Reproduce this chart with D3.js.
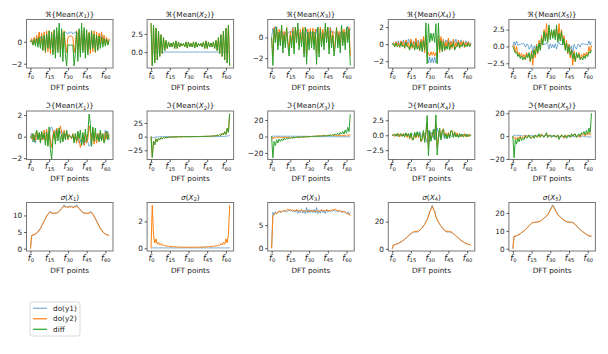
<!DOCTYPE html>
<html><head><meta charset="utf-8">
<script src="https://cdn.jsdelivr.net/npm/d3@7"></script>
<style>body{margin:0;background:#fff}svg{display:block}</style>
</head><body>
<svg id="c" width="608" height="354"></svg>
<script>
// ---------- DATA (64 DFT points each) ----------
const dftIndex = d3.range(64);
const xTickValues = [0, 15, 30, 45, 60];
const seriesNames = ["do(y1)", "do(y2)", "diff"];

// Row 1: real part of mean
const re1_y1 = [0.0,0.2,-0.1,0.3,0.1,0.4,0.2,0.8,0.3,0.5,-0.2,0.4,-0.3,0.5,-0.4,0.3,-0.7,0.2,-0.5,0.6,-0.3,0.7,0.1,0.6,-0.5,0.5,0.8,0.7,0.9,0.8,0.7,0.9,0.8,
 0.9,0.7,0.8,0.9,0.7,0.8,0.5,-0.5,0.6,0.1,0.7,-0.3,0.6,-0.5,0.2,-0.7,0.3,-0.4,0.5,-0.3,0.4,-0.2,0.5,0.3,0.8,0.2,0.4,0.1,0.3,-0.1,0.2];
const re1_y2 = [0.0,0.3,-0.3,0.4,-0.2,0.6,-0.2,0.9,-0.3,0.8,-0.7,0.9,-1.0,1.0,-0.9,1.0,-1.1,0.9,-1.0,1.0,-1.0,1.0,-0.8,1.0,-1.0,1.0,-0.7,1.0,-0.2,-1.0,0.4,0.5,0.5,
 0.5,0.4,-1.0,-0.2,1.0,-0.7,1.0,-1.0,1.0,-0.8,1.0,-1.0,1.0,-1.0,0.9,-1.1,1.0,-0.9,1.0,-1.0,0.9,-0.7,0.8,-0.3,0.9,-0.2,0.6,-0.2,0.4,-0.3,0.3];
const re1_diff = [0.0,0.1,-0.3,0.2,-0.4,0.3,-0.5,0.4,-0.6,0.5,-0.8,0.6,-0.9,0.7,-0.6,1.0,-0.7,0.8,-1.2,1.1,-1.5,1.3,-1.0,1.7,-1.4,1.2,-1.8,0.9,-1.1,-2.2,-0.3,-0.3,-0.3,
 -0.3,-0.3,-2.2,-1.1,0.9,-1.8,1.2,-1.4,1.7,-1.0,1.3,-1.5,1.1,-1.2,0.8,-0.7,1.0,-0.6,0.7,-0.9,0.6,-0.8,0.5,-0.6,0.4,-0.5,0.3,-0.4,0.2,-0.3,0.1];

const re2_y1 = [0,0,0,0,0,0,0,0,0,0,0,0,0,0,0,0,0,0,0,0,0,0,0,0,0,0,0,0,0,0,0,0,0,
 0,0,0,0,0,0,0,0,0,0,0,0,0,0,0,0,0,0,0,0,0,0,0,0,0,0,0,0,0,0,0];
const re2_diff = [4.0,-1.9,3.7,-1.5,3.3,-1.1,2.9,-0.6,2.4,-0.2,2.0,0.2,1.6,0.5,1.4,0.7,1.25,0.7,1.4,0.5,1.55,0.5,1.4,0.7,1.2,0.85,1.2,0.7,1.4,0.55,1.4,0.7,1.2,
 0.7,1.4,0.55,1.4,0.7,1.2,0.85,1.2,0.7,1.4,0.5,1.55,0.5,1.4,0.7,1.25,0.7,1.4,0.5,1.6,0.2,2.0,-0.2,2.4,-0.6,2.9,-1.1,3.3,-1.5,3.7,-1.9];
const re2_y2 = re2_diff; // identical in the picture (do(y1) is zero)

const re3_y1 = [0.0,0.9,0.4,1.1,0.2,0.5,0.3,0.6,0.0,0.5,0.3,0.5,0.2,0.4,0.5,0.6,0.5,1.0,0.5,0.3,0.4,0.2,0.4,0.5,0.5,0.3,0.4,0.0,0.8,0.3,0.5,0.3,0.5,
 0.3,0.5,0.3,0.8,0.0,0.4,0.3,0.5,0.5,0.4,0.2,0.4,0.3,0.5,1.0,0.5,0.6,0.5,0.4,0.2,0.5,0.3,0.5,0.0,0.6,0.3,0.5,0.2,1.1,0.4,0.9];
const re3_y2 = [0.0,-1.8,1.0,-0.2,1.0,-0.8,0.8,-0.4,1.0,-1.0,0.6,-0.6,1.0,-0.3,-1.3,0.6,-0.5,0.9,-1.1,1.0,-0.1,1.0,-0.8,0.8,-0.4,1.0,-1.5,1.0,-1.8,0.8,-0.7,0.9,-0.5,
 0.9,-0.7,0.8,-1.8,1.0,-1.5,1.0,-0.4,0.8,-0.8,1.0,-0.1,1.0,-1.1,0.9,-0.5,0.6,-1.3,-0.3,1.0,-0.6,0.6,-1.0,1.0,-0.4,0.8,-0.8,1.0,-0.2,1.0,-1.8];
const re3_diff = [0.0,-2.7,0.8,-0.5,1.0,-1.2,0.5,-0.8,1.2,-1.5,0.3,-1.0,0.9,-0.7,-1.8,0.2,-1.0,0.6,-1.6,1.0,-0.5,1.4,-1.2,0.4,-0.9,0.8,-1.9,1.0,-2.6,0.5,-1.2,0.6,-1.0,
 0.6,-1.2,0.5,-2.6,1.0,-1.9,0.8,-0.9,0.4,-1.2,1.4,-0.5,1.0,-1.6,0.6,-1.0,0.2,-1.8,-0.7,0.9,-1.0,0.3,-1.5,1.2,-0.8,0.5,-1.2,1.0,-0.5,0.8,-2.7];

const re4_y1 = [0.0,0.2,-0.1,0.3,0.0,0.4,-0.2,0.3,0.1,0.5,-0.1,0.4,0.0,0.6,0.2,0.5,-0.3,0.4,0.0,0.6,0.2,0.5,-0.2,0.4,0.3,0.6,-0.4,0.5,-1.0,-2.2,-1.5,-2.2,-1.6,
 -2.2,-1.5,-2.2,-1.0,0.5,-0.4,0.6,0.3,0.4,-0.2,0.5,0.2,0.6,0.0,0.4,-0.3,0.5,0.2,0.6,0.0,0.4,-0.1,0.5,0.1,0.3,-0.2,0.4,0.0,0.3,-0.1,0.2];
const re4_y2 = [0.0,0.1,-0.3,0.3,-0.2,0.2,-0.4,0.4,-0.2,0.3,-0.5,0.5,-0.3,0.2,-0.6,0.6,-0.5,0.3,-0.6,0.7,-0.4,0.3,-0.8,0.6,-0.6,0.9,-1.0,1.0,-1.5,-1.0,-1.4,-0.9,-1.3,
 -0.9,-1.4,-1.0,-1.5,1.0,-1.0,0.9,-0.6,0.6,-0.8,0.3,-0.4,0.7,-0.6,0.3,-0.5,0.6,-0.6,0.2,-0.3,0.5,-0.5,0.3,-0.2,0.4,-0.4,0.2,-0.2,0.3,-0.3,0.1];
const re4_diff = [0.0,0.0,-0.3,0.1,-0.3,-0.1,-0.3,0.2,-0.3,-0.1,-0.4,0.2,-0.3,-0.3,-0.7,0.2,-0.3,-0.1,-0.7,0.2,-0.6,-0.2,-0.7,0.3,-0.9,0.4,-0.7,2.5,-2.3,2.4,0.2,1.3,0.4,
 1.3,0.2,2.4,-2.3,2.5,-0.7,0.4,-0.9,0.3,-0.7,-0.2,-0.6,0.2,-0.7,-0.1,-0.3,0.2,-0.7,-0.3,-0.3,0.2,-0.4,-0.1,-0.3,0.2,-0.3,-0.1,-0.3,0.1,-0.3,0.0];

const re5_y1 = [0.0,0.7,0.2,0.8,0.2,0.3,0.3,0.4,0.4,0.4,-0.1,0.3,0.3,-0.4,-0.1,0.3,-1.0,0.1,-0.4,0.3,-0.2,0.4,0.2,0.4,0.3,0.3,0.3,0.6,0.3,-0.4,0.4,-0.2,0.3,
 -0.2,0.4,-0.4,0.3,0.6,0.3,0.3,0.3,0.4,0.2,0.4,-0.2,0.3,-0.4,0.1,-1.0,0.3,-0.1,-0.4,0.3,0.3,-0.1,0.4,0.4,0.4,0.3,0.3,0.2,0.8,0.2,0.7];
const re5_y2 = [0.0,0.2,-0.8,0.0,-1.3,-0.9,-1.5,-1.0,-1.6,-1.2,-2.0,-0.9,-1.4,-1.3,-2.3,-0.7,-2.8,-0.4,-1.7,0.3,-1.1,0.9,-0.4,1.6,0.5,2.5,1.1,3.4,0.9,2.8,1.4,2.3,1.5,
 2.3,1.4,2.8,0.9,3.4,1.1,2.5,0.5,1.6,-0.4,0.9,-1.1,0.3,-1.7,-0.4,-2.8,-0.7,-2.3,-1.3,-1.4,-0.9,-2.0,-1.2,-1.6,-1.0,-1.5,-0.9,-1.3,0.0,-0.8,0.2];
const re5_diff = [0.0,-0.5,-1.0,-0.8,-1.5,-1.2,-1.8,-1.4,-2.0,-1.6,-1.9,-1.2,-1.7,-0.9,-2.2,-1.0,-1.8,-0.5,-1.3,0.0,-0.9,0.5,-0.6,1.2,0.2,2.2,0.8,2.0,0.6,3.2,1.0,2.5,1.2,
 2.5,1.0,3.2,0.6,2.0,0.8,2.2,0.2,1.2,-0.6,0.5,-0.9,0.0,-1.3,-0.5,-1.8,-1.0,-2.2,-0.9,-1.7,-1.2,-1.9,-1.6,-2.0,-1.4,-1.8,-1.2,-1.5,-0.8,-1.0,-0.5];

// Row 2: imaginary part of mean
const im1_y1 = [0,0.3,-0.5,0.1,-0.6,0.2,0.1,-0.1,0.2,-0.3,-0.1,0.3,0.4,0.3,0.1,-0.3,0.8,0.9,0.5,0.2,0.4,0.8,0.2,0.7,0.3,0.6,0.1,0.4,0.0,0.3,-0.1,0.2,0,
 -0.2,0.1,-0.3,0.0,-0.4,-0.1,-0.6,-0.3,-0.7,-0.2,-0.8,-0.4,-0.2,-0.5,-0.9,-0.8,0.3,-0.1,-0.3,-0.4,-0.3,0.1,0.3,-0.2,0.1,-0.1,-0.2,0.6,-0.1,0.5,-0.3];
const im1_y2 = [0,0.1,-0.3,0.2,-0.4,0.5,-0.2,0.3,-0.5,0.4,-0.3,0.6,-0.4,0.7,-0.8,0.6,-0.4,-1.0,0.2,0.6,-0.3,0.8,-0.2,0.5,1.0,0.3,-0.4,0.6,-0.2,0.5,-0.3,0.2,0,
 -0.2,0.3,-0.5,0.2,-0.6,0.4,-0.3,-1.0,-0.5,0.2,-0.8,0.3,-0.6,-0.2,1.0,0.4,-0.6,0.8,-0.7,0.4,-0.6,0.3,-0.4,0.5,-0.3,0.2,-0.5,0.4,-0.2,0.3,-0.1];
const im1_diff = [0,-0.2,0.3,-0.5,0.2,0.6,-0.3,0.4,-0.6,0.5,-0.2,0.3,-0.8,0.4,-0.9,0.9,-1.2,-2.1,-0.3,0.4,-0.7,0.6,-0.4,0.8,-0.6,0.2,-0.5,0.4,-0.3,0.6,-0.2,0.1,0,
 -0.1,0.2,-0.6,0.3,-0.4,0.5,-0.2,0.6,-0.8,0.4,-0.6,0.7,-0.4,0.3,2.1,1.2,-0.9,0.9,-0.4,0.8,-0.3,0.2,-0.5,0.6,-0.4,0.3,-0.6,-0.2,0.5,-0.3,0.2];

const im2_y1 = [0,-2,-1.5,-1,-0.8,-0.5,-0.4,-0.3,-0.2,-0.2,-0.1,-0.1,-0.1,0,0,0,0,0,0,0,0,0,0,0,0,0,0,0,0,0,0,0,0,
 0,0,0,0,0,0,0,0,0,0,0,0,0,0,0,0,0,0,0,0.1,0.1,0.1,0.2,0.2,0.3,0.4,0.5,0.8,1,1.5,2];
const im2_diff = [0,-38,-8,-15,-4,-9,-3,-6,-2,-4,-1.5,-3,-1,-2,-1,-1.5,-0.5,-1,-0.5,-0.8,-0.3,-0.6,-0.2,-0.5,-0.2,-0.3,-0.1,-0.2,-0.1,-0.1,0,-0.1,0,
 0.1,0,0.1,0.1,0.2,0.1,0.3,0.2,0.5,0.2,0.6,0.3,0.8,0.5,1,0.5,1.5,1,2,1,3,1.5,4,2,6,3,9,4,15,8,42];
const im2_y2 = im2_diff; // hidden under diff in the picture

const im3_y1 = [0,0.5,0.3,0.6,0.2,0.4,0.3,0.5,0.1,0.4,0.2,0.3,0.4,0.2,0.3,0.5,0.1,0.3,0.2,0.4,0.1,0.3,0.2,0.2,0.3,0.1,0.2,0.3,0.1,0.2,0.1,0.1,0,
 -0.1,-0.1,-0.2,-0.1,-0.3,-0.2,-0.1,-0.3,-0.2,-0.2,-0.3,-0.1,-0.4,-0.2,-0.3,-0.1,-0.5,-0.3,-0.2,-0.4,-0.3,-0.2,-0.4,-0.1,-0.5,-0.3,-0.4,-0.2,-0.6,-0.3,-0.5];
const im3_y2 = [0,-3,-1,-2,-0.5,-1.5,-0.5,-1.2,-1,-1.5,-0.8,-1.2,-1,-1.5,-1.2,-2,-1,-1.8,-1.5,-1,-1.2,-0.8,-1,-1.5,-0.6,-1,-0.5,-0.8,-0.4,-0.5,-0.2,-0.3,0,
 0.3,0.2,0.5,0.4,0.8,0.5,1,0.6,1.5,1,0.8,1.2,1,1.5,1.8,1,2,1.2,1.5,1,1.2,0.8,1.5,1,1.2,0.5,1.5,0.5,2,1,3];
const im3_diff = [0,-26,-6,-11,-4,-8,-3,-6,-3,-5,-2,-4,-2,-3,-1.5,-2.5,-1,-2,-1,-1.5,-0.5,-1.2,-0.5,-1,-0.3,-0.8,-0.3,-0.6,-0.2,-0.4,-0.1,-0.2,0,
 0.2,0.1,0.4,0.2,0.6,0.3,0.8,0.3,1,0.5,1.2,0.5,1.5,1,2,1,2.5,1.5,3,2,4,2,5,3,6,3,8,4,11,6,27];

const im4_y1 = [0,0.1,-0.2,0.1,-0.2,0.1,0.0,-0.1,0.2,-0.1,0.2,0.1,-0.2,0.1,0.0,-0.1,0.2,0.1,-0.2,0.2,0.5,0.3,0.6,0.0,-0.3,0.5,0.2,-0.6,-1.2,0.8,-1.0,0.5,0,
 -0.5,1.0,-0.8,1.2,0.6,-0.2,-0.5,0.3,0.0,-0.6,-0.3,-0.5,-0.2,0.2,-0.1,-0.2,0.1,0.0,-0.1,0.2,-0.1,-0.2,0.1,-0.2,0.1,0.0,-0.1,0.2,-0.1,0.2,-0.1];
const im4_y2 = [0,0.1,-0.2,0.2,-0.1,0.3,-0.3,0.2,-0.1,0.3,-0.2,0.3,-0.4,0.2,-0.6,0.3,-0.8,-0.6,0.3,-0.5,0.4,-0.4,0.2,-1.1,-0.8,0.5,-0.9,0.2,2.0,-2.0,0.5,-0.6,0,
 0.6,-0.5,2.0,-2.0,-0.2,0.9,-0.5,0.8,1.1,-0.2,0.4,-0.4,0.5,-0.3,0.6,0.8,-0.3,0.6,-0.2,0.4,-0.3,0.2,-0.3,0.1,-0.2,0.3,-0.3,0.1,-0.2,0.2,-0.1];
const im4_diff = [0,0.0,0.2,-0.1,0.3,-0.2,0.1,0.3,-0.2,0.2,-0.3,0.4,-0.1,0.3,-0.5,0.4,-0.6,-0.8,0.5,-0.3,0.6,-0.2,0.4,-1.0,-0.5,0.8,-1.2,0.6,3.3,-3.4,0.8,-1.0,0,
 1.0,-0.8,3.4,-3.3,-0.6,1.2,-0.8,0.5,1.0,-0.4,0.2,-0.6,0.3,-0.5,0.8,0.6,-0.4,0.5,-0.3,0.1,-0.4,0.3,-0.2,0.2,-0.3,-0.1,0.2,-0.3,0.1,-0.2,0.0];

const im5_y1 = [0,1,0.5,1,0.3,0.8,0.5,0.5,-0.3,0.8,0.4,0.6,0.2,0.5,0.3,0.7,0.1,0.5,0.2,0.4,0.8,0.2,0.5,0.6,0.3,0.2,0.5,0.3,0.4,0.6,0.2,0.3,0,
 -0.3,-0.2,-0.6,-0.4,-0.3,-0.5,-0.2,-0.3,-0.6,-0.5,-0.2,-0.8,-0.4,-0.2,-0.5,-0.1,-0.7,-0.3,-0.5,-0.2,-0.6,-0.4,-0.8,0.3,-0.5,-0.5,-0.8,-0.3,-1,-0.5,-1];
const im5_y2 = [0,-2,-1,-3,-1,-2,0,-2,-1,-2,1,-1,0,1,-1,-2,0,-1,1,0,-1,1,-1,2,0,-1,1,2,-1,1,0,-1,0,
 1,0,-1,1,-2,-1,1,0,-2,1,-1,1,0,-1,1,0,2,1,-1,0,1,-1,2,1,2,0,2,1,3,1,2];
const im5_diff = [0,-19,-3,-7,-2,-5,-1,-4,-2,-3,0,-2,-1,1,-2,-1,0,-2,1,-1,0,2,-1,1,0,-1,1,3,-1,0,1,-1,0,
 1,-1,0,1,-3,-1,1,0,-1,1,-2,0,1,-1,2,0,1,2,-1,1,2,0,3,2,4,1,5,2,7,3,20];

// Row 3: standard deviation
const sd1_y1 = [0,4.0,4.1,4.2,4.5,4.6,5.0,5.8,6.0,6.8,7.6,8.4,9.1,9.8,10.3,11.0,11.2,10.6,10.7,10.5,10.8,10.6,11.0,11.3,11.8,12.2,12.6,13.2,12.5,12.8,12.4,12.9,12.5,
 12.9,12.4,12.8,12.5,13.2,12.6,12.2,11.8,11.3,11.0,10.6,10.8,10.5,10.7,10.6,11.2,11.0,10.3,9.8,9.1,8.4,7.6,6.8,6.0,5.8,5.0,4.6,4.5,4.2,4.1,4.0];
const sd1_y2 = [0,3.9,4.1,4.3,4.3,4.7,5.2,5.4,6.1,6.9,7.5,8.3,9.0,9.7,10.4,10.8,10.9,10.8,10.6,10.7,10.6,10.8,10.9,11.2,11.6,12.1,12.5,12.7,12.6,12.6,12.3,12.7,12.4,
 12.7,12.3,12.6,12.6,12.7,12.5,12.1,11.6,11.2,10.9,10.8,10.6,10.7,10.6,10.8,10.9,10.8,10.4,9.7,9.0,8.3,7.5,6.9,6.1,5.4,5.2,4.7,4.3,4.3,4.1,3.9];

const sd2_y1 = [0,0.03,0.03,0.03,0.03,0.03,0.03,0.03,0.03,0.03,0.03,0.03,0.03,0.03,0.03,0.03,0.03,0.03,0.03,0.03,0.03,0.03,0.03,0.03,0.03,0.03,0.03,0.03,0.03,0.03,0.03,0.03,0.03,
 0.03,0.03,0.03,0.03,0.03,0.03,0.03,0.03,0.03,0.03,0.03,0.03,0.03,0.03,0.03,0.03,0.03,0.03,0.03,0.03,0.03,0.03,0.03,0.03,0.03,0.03,0.03,0.03,0.03,0.03,0.03];
const sd2_y2 = [0,3.2,1.0,0.4,0.7,0.3,0.45,0.25,0.35,0.2,0.25,0.18,0.2,0.15,0.16,0.14,0.13,0.12,0.12,0.11,0.1,0.1,0.1,0.09,0.09,0.09,0.08,0.08,0.08,0.08,0.08,0.08,0.08,
 0.08,0.08,0.08,0.08,0.08,0.08,0.09,0.09,0.09,0.1,0.1,0.1,0.11,0.12,0.12,0.13,0.14,0.16,0.15,0.2,0.18,0.25,0.2,0.35,0.25,0.45,0.3,0.7,0.4,1.0,3.2];

const sd3_y1 = [0,7.8,7.2,7.9,7.4,7.8,8.1,7.7,8.0,7.9,8.2,7.8,8.1,8.0,8.3,8.0,8.2,7.9,8.2,7.8,8.3,7.5,8.1,7.7,8.4,7.6,8.2,7.5,8.8,7.6,8.4,7.7,8.3,
 7.7,8.4,7.6,8.8,7.5,8.2,7.6,8.4,7.7,8.1,7.5,8.3,7.8,8.2,7.9,8.2,8.0,8.3,8.0,8.1,7.8,8.2,7.9,8.0,7.7,8.1,7.8,7.4,7.9,7.2,7.8];
const sd3_y2 = [0,7.0,7.4,7.6,7.5,7.8,7.9,8.0,7.8,8.1,8.2,8.0,8.3,8.5,8.2,8.4,8.1,8.3,8.0,8.2,8.4,8.0,8.2,8.0,8.3,8.1,7.9,8.2,8.0,8.1,7.9,8.2,8.0,
 8.2,7.9,8.1,8.0,8.2,7.9,8.1,8.3,8.0,8.2,8.0,8.4,8.2,8.0,8.3,8.1,8.4,8.2,8.5,8.3,8.0,8.2,8.1,7.8,8.0,7.9,7.8,7.5,7.6,7.4,7.0];

const sd4_y1 = [0,2.8,3.0,3.3,3.6,4.0,4.4,5.0,5.6,6.3,7.0,7.8,8.6,9.5,10.3,11.0,11.8,12.4,12.0,12.6,12.2,12.8,13.5,14.5,15.5,16.8,18.2,19.8,21.5,24.0,27.5,29.5,32.0,
 29.5,27.5,24.0,21.5,19.8,18.2,16.8,15.5,14.5,13.5,12.8,12.2,12.6,12.0,12.4,11.8,11.0,10.3,9.5,8.6,7.8,7.0,6.3,5.6,5.0,4.4,4.0,3.6,3.3,3.0,2.8];
const sd4_y2 = [0,2.9,3.1,3.3,3.7,4.0,4.5,5.0,5.7,6.3,7.1,7.9,8.7,9.5,10.4,11.1,11.9,12.6,12.6,12.8,12.9,13.1,13.6,14.4,15.6,16.9,18.0,19.6,21.3,23.5,27.0,29.0,31.0,
 29.0,27.0,23.5,21.3,19.6,18.0,16.9,15.6,14.4,13.6,13.1,12.9,12.8,12.6,12.6,11.9,11.1,10.4,9.5,8.7,7.9,7.1,6.3,5.7,5.0,4.5,4.0,3.7,3.3,3.1,2.9];

const sd5_y1 = [0,7.0,6.8,7.2,7.5,8.0,8.4,9.0,9.5,10.0,10.6,11.3,12.0,12.8,13.6,14.2,14.8,14.5,15.0,14.6,15.2,15.0,15.6,16.0,16.5,17.2,17.8,18.5,19.2,20.5,22.0,23.5,24.6,
 23.5,22.0,20.5,19.2,18.5,17.8,17.2,16.5,16.0,15.6,15.0,15.2,14.6,15.0,14.5,14.8,14.2,13.6,12.8,12.0,11.3,10.6,10.0,9.5,9.0,8.4,8.0,7.5,7.2,6.8,7.0];
const sd5_y2 = [0,7.0,7.1,7.3,7.6,8.0,8.5,9.0,9.5,10.1,10.7,11.4,12.1,12.9,13.6,14.2,14.6,14.8,14.7,15.0,14.8,15.2,15.4,15.9,16.5,17.0,17.7,18.3,19.0,20.3,21.5,23.0,24.0,
 23.0,21.5,20.3,19.0,18.3,17.7,17.0,16.5,15.9,15.4,15.2,14.8,15.0,14.7,14.8,14.6,14.2,13.6,12.9,12.1,11.4,10.7,10.1,9.5,9.0,8.5,8.0,7.6,7.3,7.1,7.0];

// y tick values per panel (row-major)
const yTicks = [
  [-2, 0], [0, 2.5], [-2, 0], [-2, 0, 2], [-2.5, 0, 2.5],
  [-2, 0, 2], [-25, 0, 25], [-20, 0, 20], [-2.5, 0, 2.5], [-20, 0, 20],
  [0, 5, 10], [0, 2], [0, 5], [0, 20], [0, 10, 20]
];
const yTickFormats = [
  "d", ".1f", "d", "d", ".1f",
  "d", "d", "d", ".1f", "d",
  "d", "d", "d", "d", "d"
];

// ---------- LAYOUT / STYLE ----------
const colors = ["#1f77b4", "#ff7f0e", "#2ca02c"];
const opac = [0.6, 1, 1];
const colLeft = [26.5, 147.1, 267.7, 388.3, 508.9];
const rowTop = [19.5, 111, 202.5];
const axW = 86.5, axH = 48.5;
const FS = 7.3;
const FONT = "DejaVu Sans, sans-serif";

const panels = [
  {kind: "re", n: 1, s: [re1_y1, re1_y2, re1_diff], dom: [-2.39, 2.03]},
  {kind: "re", n: 2, s: [re2_y1, re2_y2, re2_diff], dom: [-2.2, 4.5]},
  {kind: "re", n: 3, s: [re3_y1, re3_y2, re3_diff], dom: [-2.95, 1.74]},
  {kind: "re", n: 4, s: [re4_y1, re4_y2, re4_diff], dom: [-2.8, 2.9]},
  {kind: "re", n: 5, s: [re5_y1, re5_y2, re5_diff], dom: [-3.2, 4.0]},
  {kind: "im", n: 1, s: [im1_y1, im1_y2, im1_diff], dom: [-2.12, 2.38]},
  {kind: "im", n: 2, s: [im2_y1, im2_y2, im2_diff], dom: [-42, 47]},
  {kind: "im", n: 3, s: [im3_y1, im3_y2, im3_diff], dom: [-28, 31]},
  {kind: "im", n: 4, s: [im4_y1, im4_y2, im4_diff], dom: [-4.05, 4.05]},
  {kind: "im", n: 5, s: [im5_y1, im5_y2, im5_diff], dom: [-20.5, 22]},
  {kind: "sd", n: 1, s: [sd1_y1, sd1_y2], dom: [-0.7, 13.9]},
  {kind: "sd", n: 2, s: [sd2_y1, sd2_y2], dom: [-0.2, 3.4]},
  {kind: "sd", n: 3, s: [sd3_y1, sd3_y2], dom: [-0.6, 9.9]},
  {kind: "sd", n: 4, s: [sd4_y1, sd4_y2], dom: [-1.6, 34]},
  {kind: "sd", n: 5, s: [sd5_y1, sd5_y2], dom: [-1.3, 25.9]}
];

const svg = d3.select("#c").attr("font-family", FONT);
const minus = s => s.replace(/-/g, "\u2212");

panels.forEach((p, i) => {
  const r = Math.floor(i / 5), c = i % 5;
  const g = svg.append("g").attr("transform", `translate(${colLeft[c]},${rowTop[r]})`);
  const x = d3.scaleLinear().domain([-3.15, 66.15]).range([0, axW]);
  const y = d3.scaleLinear().domain(p.dom).range([axH, 0]);

  // lines
  const clipId = "clip" + i;
  g.append("clipPath").attr("id", clipId).append("rect").attr("width", axW).attr("height", axH);
  const line = d3.line().x((d, k) => x(dftIndex[k])).y(d => y(d));
  const lg = g.append("g").attr("clip-path", `url(#${clipId})`);
  p.s.forEach((arr, j) => {
    lg.append("path").datum(arr).attr("d", line).attr("fill", "none")
      .attr("stroke", colors[j]).attr("stroke-opacity", opac[j])
      .attr("stroke-width", 1).attr("stroke-linejoin", "round");
  });

  // frame
  g.append("rect").attr("width", axW).attr("height", axH).attr("fill", "none")
    .attr("stroke", "#777").attr("stroke-width", 1);

  // y axis
  const fmt = d3.format(yTickFormats[i]);
  const ya = d3.axisLeft(y).tickValues(yTicks[i]).tickSize(2.5).tickPadding(1.8)
    .tickFormat(v => minus(fmt(v)));
  const yg = g.append("g").call(ya);
  yg.select(".domain").remove();
  yg.selectAll(".tick line").attr("stroke", "#333").attr("stroke-width", 0.8);
  yg.selectAll(".tick text").attr("font-size", FS).attr("font-family", FONT).attr("fill", "#222");

  // x axis
  const xa = d3.axisBottom(x).tickValues(xTickValues).tickSize(2.5).tickFormat("");
  const xg = g.append("g").attr("transform", `translate(0,${axH})`).call(xa);
  xg.select(".domain").remove();
  xg.selectAll(".tick line").attr("stroke", "#333").attr("stroke-width", 0.8);
  xg.selectAll(".tick").each(function(v) {
    const t = d3.select(this).append("text").attr("y", 9.5).attr("text-anchor", "middle")
      .attr("font-size", FS + 1).attr("fill", "#222").attr("font-family", FONT);
    t.append("tspan").attr("font-style", "italic").text("f");
    t.append("tspan").attr("font-size", 5.2).attr("dy", 1.8).text(v);
  });

  // x label
  g.append("text").attr("x", axW / 2).attr("y", axH + 21.5).attr("text-anchor", "middle")
    .attr("font-size", FS).attr("fill", "#222").text("DFT points");

  // title
  const tt = g.append("text").attr("x", axW / 2).attr("y", -2.8).attr("text-anchor", "middle")
    .attr("font-size", FS).attr("fill", "#222");
  if (p.kind === "sd") {
    tt.append("tspan").attr("font-style", "italic").text("\u03C3");
    tt.append("tspan").text("(");
  } else {
    tt.append("tspan").text((p.kind === "re" ? "\u211C" : "\u2111") + "{Mean(");
  }
  tt.append("tspan").attr("font-style", "italic").text("X");
  tt.append("tspan").attr("font-size", 5.2).attr("dy", 1.5).text(p.n);
  tt.append("tspan").attr("dy", -1.5).text(p.kind === "sd" ? ")" : ")}");
});

// legend
const leg = svg.append("g").attr("transform", "translate(30,302)");
leg.append("rect").attr("width", 50).attr("height", 34).attr("rx", 2)
  .attr("fill", "#fff").attr("stroke", "#d0d0d0").attr("stroke-width", 0.8);
seriesNames.forEach((nm, j) => {
  const yy = 6.3 + j * 10.5;
  leg.append("line").attr("x1", 3).attr("x2", 17).attr("y1", yy).attr("y2", yy)
    .attr("stroke", colors[j]).attr("stroke-opacity", opac[j]).attr("stroke-width", 1.2);
  leg.append("text").attr("x", 23).attr("y", yy + 2.6).attr("font-size", FS)
    .attr("fill", "#222").text(nm);
});
</script>
</body></html>
